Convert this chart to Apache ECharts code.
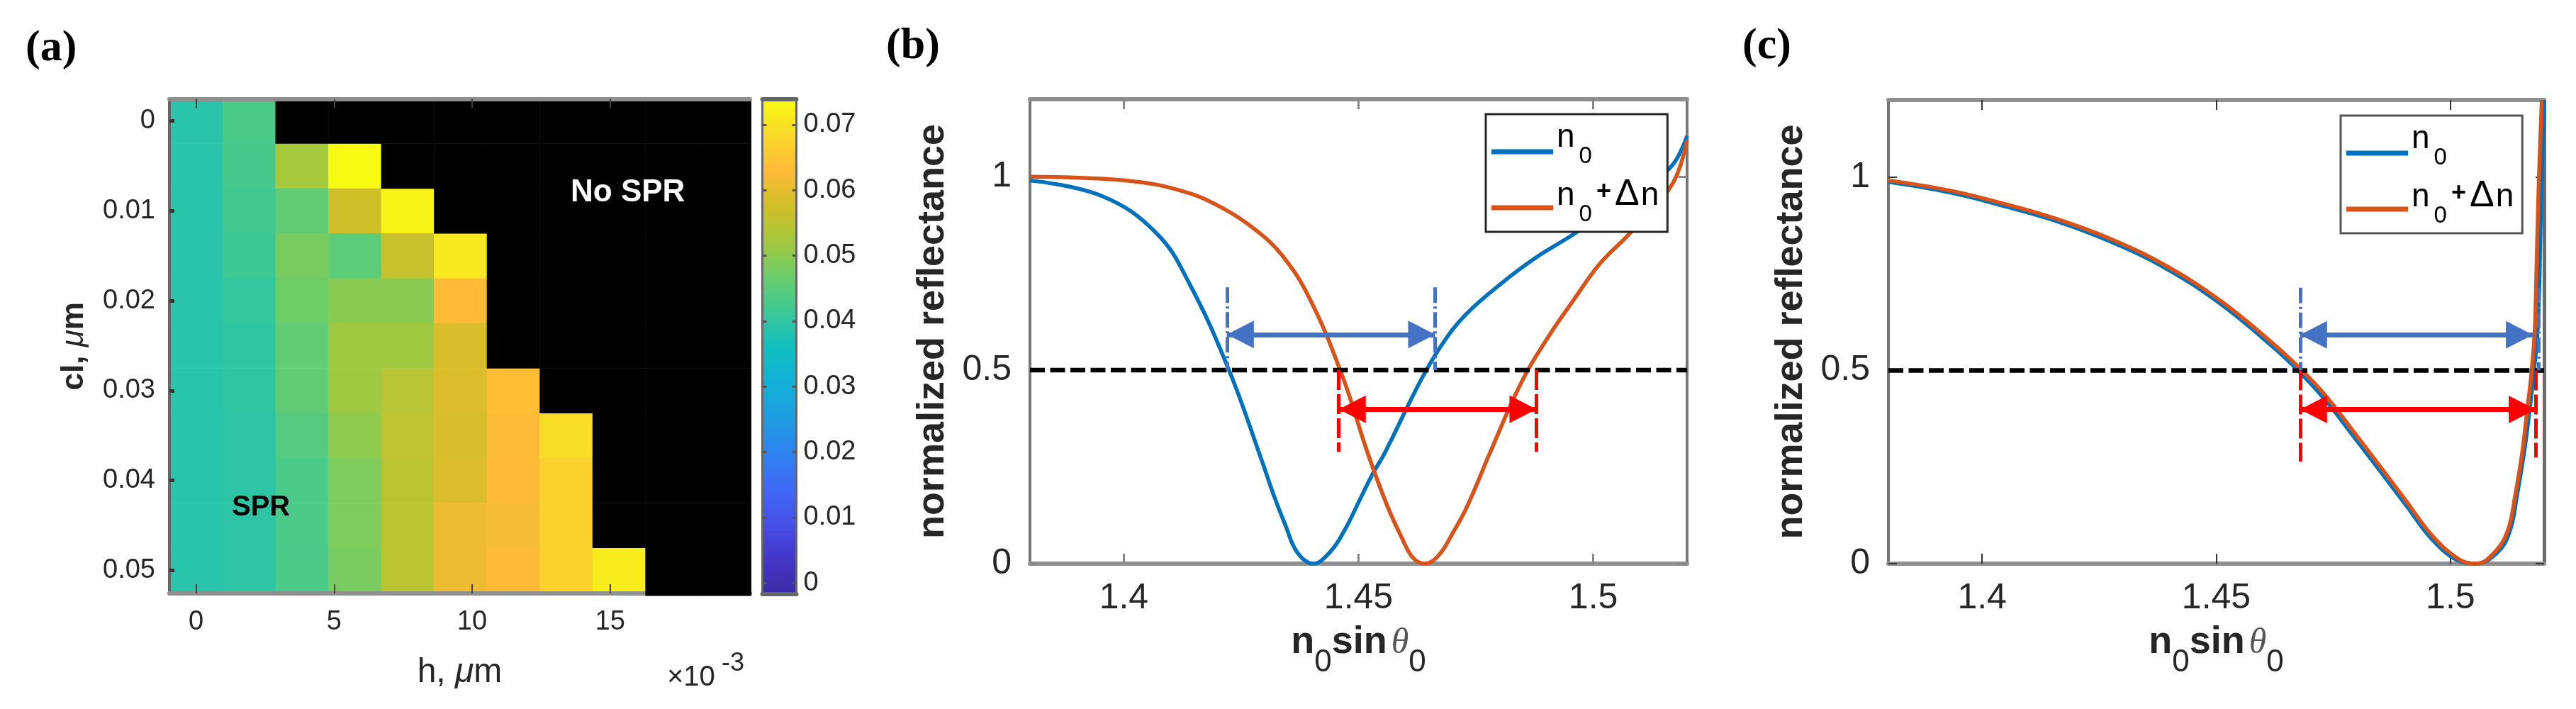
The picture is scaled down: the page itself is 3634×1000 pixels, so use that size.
<!DOCTYPE html>
<html><head><meta charset="utf-8">
<script src="https://cdn.jsdelivr.net/npm/echarts@6/dist/echarts.min.js"></script>
<style>html,body{margin:0;padding:0;background:#fff}#c{width:3634px;height:1000px}</style>
</head><body><div id="c"></div>
<script>
// ---------- panel (a) data ----------
const hValues = [0, 1.915, 3.83, 5.745, 7.66, 9.575, 11.49, 13.405, 15.32, 17.235, 19.15]; // x 1e-3
const clValues = [0, 0.005, 0.01, 0.015, 0.02, 0.025, 0.03, 0.035, 0.04, 0.045, 0.05];
const N = null;
const heatRows = [
  [0.0400, 0.0440, N, N, N, N, N, N, N, N, N],
  [0.0400, 0.0435, 0.0530, 0.0740, N, N, N, N, N, N, N],
  [0.0400, 0.0430, 0.0465, 0.0580, 0.0730, N, N, N, N, N, N],
  [0.0400, 0.0425, 0.0490, 0.0460, 0.0570, 0.0715, N, N, N, N, N],
  [0.0400, 0.0415, 0.0480, 0.0505, 0.0505, 0.0635, N, N, N, N, N],
  [0.0400, 0.0410, 0.0465, 0.0525, 0.0525, 0.0590, N, N, N, N, N],
  [0.0400, 0.0410, 0.0465, 0.0525, 0.0550, 0.0595, 0.0640, N, N, N, N],
  [0.0400, 0.0405, 0.0450, 0.0510, 0.0560, 0.0590, 0.0630, 0.0695, N, N, N],
  [0.0400, 0.0405, 0.0440, 0.0495, 0.0555, 0.0595, 0.0635, 0.0675, N, N, N],
  [0.0400, 0.0405, 0.0440, 0.0495, 0.0555, 0.0615, 0.0625, 0.0675, N, N, N],
  [0.0400, 0.0405, 0.0440, 0.0490, 0.0555, 0.0615, 0.0635, 0.0675, 0.0720, N, N]
];
const heatColors = ['#3d2ba5','#4436c8','#4750e8','#3f69f5','#2f82f0','#1f9de0','#12b0d8','#10bfc0','#3cc898','#6acd6c','#a4c83e','#d0bf28','#ffbb38','#f8d82a','#f8fa14'];
const heatXTicks = [0, 5, 10, 15];
const heatYTicks = [0, 0.01, 0.02, 0.03, 0.04, 0.05];
const barTicks = [0, 0.01, 0.02, 0.03, 0.04, 0.05, 0.06, 0.07];
// ---------- panel (b) data ----------
const bBlueX = [1.38,1.3955,1.4071,1.414,1.4224,1.4294,1.4319,1.4344,1.4369,1.4403,1.444,1.4471,1.4501,1.4531,1.4555,1.4631,1.4676,1.4727,1.4803,1.4878,1.4963,1.505,1.512,1.5169,1.52];
const bBlueY = [0.99,0.949,0.852,0.723,0.5,0.266,0.178,0.1,0.03,0,0.031,0.088,0.161,0.234,0.284,0.47,0.563,0.642,0.723,0.791,0.855,0.93,0.985,1.03,1.105];
const bOrangeX = [1.38,1.4013,1.4129,1.421,1.4279,1.4337,1.4395,1.4464,1.452,1.4561,1.4591,1.4616,1.4641,1.4671,1.4702,1.4727,1.4752,1.4777,1.4848,1.4909,1.4954,1.5014,1.5079,1.5168,1.52];
const bOrangeY = [1.0,0.989,0.961,0.919,0.864,0.797,0.687,0.49,0.284,0.15,0.07,0.015,0,0.022,0.082,0.137,0.205,0.278,0.471,0.595,0.674,0.775,0.855,0.98,1.095];
// ---------- panel (c) data ----------
const cOrangeX = [1.38,1.3934,1.4048,1.4162,1.4277,1.4391,1.4506,1.462,1.4683,1.4734,1.4791,1.4849,1.4906,1.4963,1.502,1.5055,1.5097,1.5123,1.5138,1.5153,1.5162,1.5173,1.518,1.5183,1.5188,1.5195];
const cOrangeY = [0.992,0.965,0.931,0.891,0.839,0.772,0.683,0.571,0.5,0.434,0.345,0.253,0.161,0.07,0.01,0,0.033,0.088,0.175,0.285,0.377,0.493,0.603,0.727,0.96,1.2];
const cBlueX = [1.38,1.3934,1.4048,1.4162,1.4277,1.4391,1.4506,1.462,1.4683,1.4734,1.4791,1.4849,1.4906,1.4963,1.502,1.5053,1.5101,1.5127,1.5142,1.5157,1.5167,1.5178,1.5186,1.519,1.5194,1.52];
const cBlueY = [0.988,0.96,0.925,0.885,0.832,0.765,0.675,0.562,0.49,0.422,0.333,0.241,0.15,0.06,0.006,0,0.03,0.085,0.175,0.285,0.377,0.493,0.603,0.727,0.96,1.2];
const refIndexTicks = [1.4, 1.45, 1.5];
const reflectTicks = [0, 0.5, 1];
const halfLevel = [0.5, 0.5];
const refIndexRange = [1.38, 1.52];
// annotation values: [x1, x2, level]
const bBlueMarks = {left:1.42196, right:1.4663, top:0.714, arrow:0.592};
const bRedMarks = {left:1.4458, right:1.4879, bottom:0.289, arrow:0.399};
const cBlueMarks = {left:1.4679, right:1.5188, arrowRight:1.5176, top:0.714, arrow:0.592};
const cRedMarks = {left:1.4679, right:1.5182, bottomL:0.264, bottomR:0.275, arrow:0.399};

const BLUE='#0072BD', ORANGE='#D95319', ABLUE='#4472C4', RED='#FF0000', BAND='#8f8f8f', TXT='#262626';
const SANS='"Liberation Sans", Arial, sans-serif', SERIF='"Liberation Serif", serif';
const grids = [
  {left:239, top:139.5, width:819, height:697.5},   // a
  {left:1075.5, top:140, width:48, height:698},     // colorbar
  {left:1453, top:140, width:927, height:655},      // b
  {left:2664, top:141, width:925, height:654}       // c
];
function tickAxis(o, values, labelSize, fmt, len, w, col){
  const a = Object.assign({type:'value', splitLine:{show:false}, scale:false}, o);
  a.axisLine = {show:true, onZero:false, lineStyle:{color:o.lineColor||BAND, width:o.lineW||6}};
  a.axisTick = values ? {show:true, inside:true, length:len, lineStyle:{color:col, width:w}, customValues:values} : {show:false};
  a.axisLabel = labelSize ? {show:true, customValues:values, fontFamily:SANS, fontSize:labelSize, color:TXT, margin:o.lm||20, formatter:fmt||(v=>String(v))} : {show:false};
  return a;
}
const sub={fontFamily:SANS,fontSize:44,color:TXT,lineHeight:44,verticalAlign:'bottom'};
const xlabelRich={
  a:{fontFamily:SANS,fontWeight:'bold',fontSize:54,color:TXT,lineHeight:54,verticalAlign:'bottom',padding:[0,0,24,0]},
  t:{fontFamily:SERIF,fontStyle:'italic',fontSize:50,color:'#555',lineHeight:50,verticalAlign:'bottom',padding:[0,0,24,6]},
  s:sub
};
const xName='{a|n}{s|0}{a|sin}{t|θ}{s|0}';
const xAxes=[
  tickAxis({gridIndex:0,position:'bottom',min:-0.968,max:20.07,z:2,name:'{r|h, }{i|μ}{r|m}',nameLocation:'middle',nameGap:88,
    nameTextStyle:{rich:{r:{fontFamily:SANS,fontSize:48,color:TXT},i:{fontFamily:SANS,fontStyle:'italic',fontSize:48,color:TXT}}},lm:22},heatXTicks,38,null,13,2,'#404040'),
  tickAxis({gridIndex:0,position:'top',min:-0.968,max:20.07,z:6},heatXTicks,0,null,13,2,'#404040'),
  tickAxis({gridIndex:1,position:'bottom',min:0,max:1,z:6,lineColor:'#666'},null,0),
  tickAxis({gridIndex:1,position:'top',min:0,max:1,z:6,lineColor:'#666'},null,0),
  tickAxis({gridIndex:2,position:'bottom',min:refIndexRange[0],max:refIndexRange[1],name:xName,nameLocation:'middle',nameGap:108,nameTextStyle:{rich:xlabelRich},lm:24},refIndexTicks,50,null,14,3,'#888'),
  tickAxis({gridIndex:2,position:'top',min:refIndexRange[0],max:refIndexRange[1]},refIndexTicks,0,null,14,3,'#888'),
  tickAxis({gridIndex:3,position:'bottom',min:refIndexRange[0],max:refIndexRange[1],name:xName,nameLocation:'middle',nameGap:108,nameTextStyle:{rich:xlabelRich},lm:24},refIndexTicks,50,null,14,2,'#333'),
  tickAxis({gridIndex:3,position:'top',min:refIndexRange[0],max:refIndexRange[1]},refIndexTicks,0,null,14,2,'#333')
];
const nameStyle={fontFamily:SANS,fontWeight:'bold',fontSize:54,color:TXT};
const yAxes=[
  tickAxis({gridIndex:0,position:'left',inverse:true,min:-0.00246,max:0.05258,lineW:4,lineColor:'#666',name:'{b|cl, }{i|μ}{b|m}',nameLocation:'middle',nameRotate:90,nameGap:112,
    nameTextStyle:{rich:{b:{fontFamily:SANS,fontWeight:'bold',fontSize:44,color:TXT},i:{fontFamily:SANS,fontStyle:'italic',fontSize:44,color:TXT}}},z:2},heatYTicks,38,null,7,5,'#333'),
  tickAxis({gridIndex:1,position:'left',min:-0.0017,max:0.0739,lineW:3,lineColor:'#666',z:6},barTicks,0,null,6,3,'#555'),
  tickAxis({gridIndex:1,position:'right',min:-0.0017,max:0.0739,lineW:3,lineColor:'#666',z:6,lm:10},barTicks,38,null,6,3,'#555'),
  tickAxis({gridIndex:2,position:'left',min:0,max:1.2,lineW:4,lineColor:'#777',name:'normalized reflectance',nameLocation:'middle',nameRotate:90,nameGap:110,nameTextStyle:nameStyle,lm:26},reflectTicks,50,null,12,3,'#888'),
  tickAxis({gridIndex:2,position:'right',min:0,max:1.2,lineW:4,lineColor:'#777'},reflectTicks,0,null,12,3,'#888'),
  tickAxis({gridIndex:3,position:'left',min:0,max:1.2,lineW:4,lineColor:'#777',name:'normalized reflectance',nameLocation:'middle',nameRotate:90,nameGap:110,nameTextStyle:nameStyle,lm:26},reflectTicks,50,null,12,2,'#333'),
  tickAxis({gridIndex:3,position:'right',min:0,max:1.2,lineW:5,lineColor:'#6a6a6a'},reflectTicks,0,null,12,2,'#333')
];
const colored=[], masked=[];
heatRows.forEach((row,r)=>row.forEach((v,c)=>{ (v===null?masked:colored).push([hValues[c],clValues[r],v===null?0:v,r]); }));
function cellRender(extendBottom){
  return function(params,api){
    const dx=(hValues[1]-hValues[0])/2, dy=(clValues[1]-clValues[0])/2;
    const x=api.value(0), y=api.value(1);
    const yEnd = (extendBottom && y===clValues[clValues.length-1]) ? 0.05282 : y+dy;
    const p0=api.coord([x-dx,y-dy]), p1=api.coord([x+dx,yEnd]);
    return {type:'rect',shape:{x:p0[0],y:p0[1],width:p1[0]-p0[0]+0.5,height:p1[1]-p0[1]+0.5},style:{fill:extendBottom?'#000':api.visual('color')}};
  };
}
function lineSeries(name,xs,ys,color,xi,yi,z){
  return {name,type:'line',xAxisIndex:xi,yAxisIndex:yi,data:xs.map((x,i)=>[x,ys[i]]),showSymbol:false,symbol:'none',smooth:0.4,
    lineStyle:{color,width:5.5},itemStyle:{color},z:z||3,silent:true,animation:false};
}
function marks(xi,yi,rows,color,dash,arrowRow){
  const data=rows.map(r=>[{coord:[r[0],r[1]],symbol:'none'},{coord:[r[0],r[2]],symbol:'none',lineStyle:{type:dash,width:5,color}}]);
  data.push([{coord:[arrowRow[0],arrowRow[2]],symbol:'triangle'},{coord:[arrowRow[1],arrowRow[2]],symbol:'triangle',lineStyle:{color,width:7,type:'solid'}}]);
  return {type:'line',xAxisIndex:xi,yAxisIndex:yi,data:[],silent:true,z:5,animation:false,
    markLine:{silent:true,animation:false,symbol:['triangle','triangle'],symbolSize:[39,38],symbolOffset:[[0,19],[0,19]],label:{show:false},precision:6,
      lineStyle:{color,width:5},itemStyle:{color},emphasis:{disabled:true},data}};
}
const blackDash=(xi,yi)=>({type:'line',xAxisIndex:xi,yAxisIndex:yi,data:refIndexRange.map((x,i)=>[x,halfLevel[i]]),showSymbol:false,symbol:'none',
  lineStyle:{color:'#000',width:6.5,type:[21,7.5]},z:4,silent:true,animation:false});
const series=[
  {type:'custom',name:'heat',xAxisIndex:0,yAxisIndex:0,data:colored,renderItem:cellRender(false),encode:{x:0,y:1},z:1,silent:true,animation:false},
  {type:'custom',name:'noSPR',xAxisIndex:0,yAxisIndex:0,data:masked,renderItem:cellRender(true),encode:{x:0,y:1},z:3,silent:true,animation:false},
  blackDash(4,3),
  lineSeries('n0',bBlueX,bBlueY,BLUE,4,3),
  lineSeries('n0+Δn',bOrangeX,bOrangeY,ORANGE,4,3),
  marks(4,3,[[bBlueMarks.left,bBlueMarks.top,0.5],[bBlueMarks.right,bBlueMarks.top,0.5]],ABLUE,[22,5,3,5],[bBlueMarks.left,bBlueMarks.right,bBlueMarks.arrow]),
  marks(4,3,[[bRedMarks.left,0.5,bRedMarks.bottom],[bRedMarks.right,0.5,bRedMarks.bottom]],RED,[28,6],[bRedMarks.left,bRedMarks.right,bRedMarks.arrow]),
  blackDash(6,5),
  lineSeries('n0',cBlueX,cBlueY,BLUE,6,5),
  lineSeries('n0+Δn',cOrangeX,cOrangeY,ORANGE,6,5),
  marks(6,5,[[cBlueMarks.left,cBlueMarks.top,0.5],[cBlueMarks.right,cBlueMarks.top,0.5]],ABLUE,[22,5,3,5],[cBlueMarks.left,cBlueMarks.arrowRight,cBlueMarks.arrow]),
  marks(6,5,[[cRedMarks.left,0.5,cRedMarks.bottomL],[cRedMarks.right,0.5,cRedMarks.bottomR]],RED,[28,6],[cRedMarks.left,cRedMarks.right,cRedMarks.arrow])
];
const legRich={
  n:{fontFamily:SANS,fontSize:46,color:'#000',lineHeight:46,verticalAlign:'bottom',padding:[0,0,20,0]},
  s:{fontFamily:SANS,fontSize:33,color:'#000',lineHeight:33,verticalAlign:'bottom',padding:[0,4,0,6]},
  p:{fontFamily:SANS,fontWeight:'bold',fontSize:36,color:'#000',lineHeight:36,verticalAlign:'bottom',padding:[0,3,30,2]},
  d:{fontFamily:SANS,fontSize:52,color:'#000',lineHeight:52,verticalAlign:'bottom',padding:[0,2,18,2]}
};
const legFmt=n=>n==='n0'?'{n|n}{s|0}':'{n|n}{s|0}{p|+}{d|Δ}{n|n}';
const legend=(left,top,border)=>({show:true,left,top,orient:'vertical',data:['n0','n0+Δn'],icon:'rect',itemWidth:87,itemHeight:7,itemGap:12,
  padding:[10,12,8,8],backgroundColor:'#fff',borderColor:border,borderWidth:3,borderRadius:0,align:'left',selectedMode:false,formatter:legFmt,textStyle:{rich:legRich},z:8});
const option={
  animation:false,backgroundColor:'#fff',
  title:[
    {text:'(a)',left:36,top:38,textStyle:{fontFamily:SERIF,fontWeight:'bold',fontSize:62,color:'#000'},padding:0},
    {text:'(b)',left:1250,top:35,textStyle:{fontFamily:SERIF,fontWeight:'bold',fontSize:62,color:'#000'},padding:0},
    {text:'(c)',left:2458,top:35,textStyle:{fontFamily:SERIF,fontWeight:'bold',fontSize:62,color:'#000'},padding:0}
  ],
  grid:grids.map(g=>Object.assign({containLabel:false},g)),
  xAxis:xAxes, yAxis:yAxes, series,
  visualMap:{type:'continuous',seriesIndex:0,dimension:2,min:0,max:0.074,left:1076,top:142,itemWidth:47,itemHeight:696,padding:0,text:['',''],showLabel:false,calculable:false,hoverLink:false,realtime:false,inRange:{color:heatColors},z:4,textStyle:{fontSize:0}},
  legend:[legend(2096,161,'#262626'),legend(3302,163,'#555')],
  graphic:[
    {type:'text',left:805,top:250,z:20,style:{text:'No SPR',fontFamily:SANS,fontWeight:'bold',fontSize:44,fill:'#fff'}},
    {type:'text',left:327,top:696,z:20,style:{text:'SPR',fontFamily:SANS,fontWeight:'bold',fontSize:40,fill:'#000'}},
    {type:'text',left:941,top:936,z:20,style:{text:'×10',fontFamily:SANS,fontSize:40,fill:TXT}},
    {type:'text',left:1018,top:918,z:20,style:{text:'-3',fontFamily:SANS,fontSize:36,fill:TXT}}
  ]
};
const chart=echarts.init(document.getElementById('c'),null,{renderer:'canvas',width:3634,height:1000});
chart.setOption(option);
</script></body></html>
